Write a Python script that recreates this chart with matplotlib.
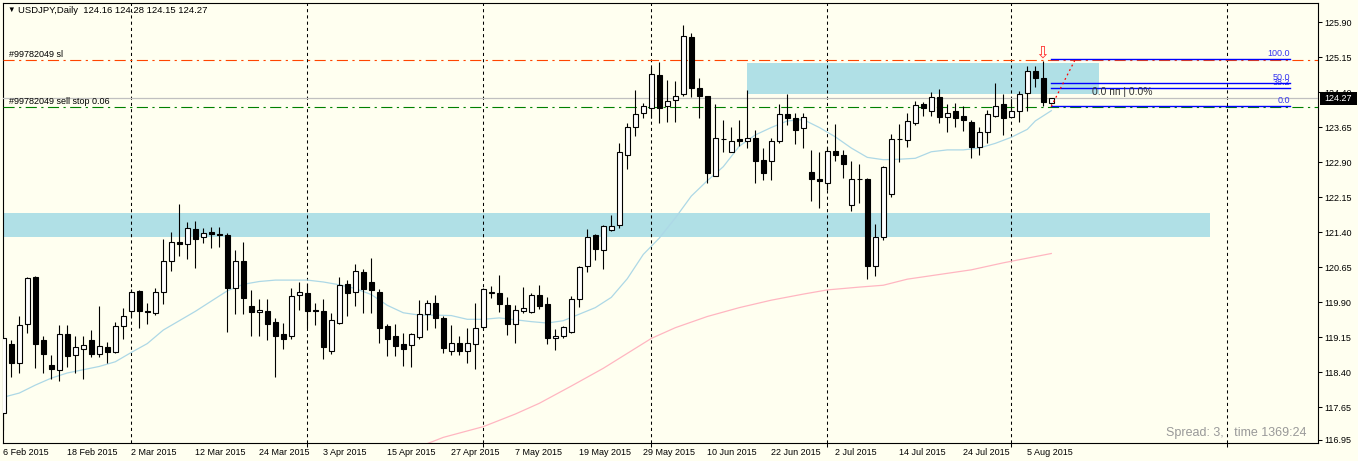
# USDJPY daily candlestick chart, MetaTrader style.
import numpy as np
import pandas as pd
import matplotlib
matplotlib.use('Agg')
import matplotlib.pyplot as plt
from matplotlib.patches import Rectangle
from matplotlib.transforms import blended_transform_factory

plt.rcParams['font.family'] = ['Liberation Sans', 'DejaVu Sans']

# Daily OHLC, one bar per business day from 6 Feb 2015
opens = [117.52, 119.01, 118.60, 119.42, 120.43, 119.09, 118.55, 118.44, 119.21, 118.76,
         118.90, 119.09, 118.78, 118.94, 118.82, 119.38, 119.70, 120.14, 119.71, 119.66,
         120.11, 120.79, 121.18, 121.14, 121.46, 121.29, 121.40, 121.36, 121.33, 120.21,
         120.77, 119.81, 119.68, 119.71, 119.47, 119.21, 119.18, 120.06, 120.09, 119.73,
         119.71, 118.86, 119.46, 120.29, 120.11, 120.55, 120.33, 120.11, 119.39, 119.17,
         119.01, 118.99, 119.16, 119.64, 119.89, 119.55, 118.86, 119.02, 118.85, 119.00,
         119.36, 120.10, 120.09, 119.83, 119.44, 119.71, 119.68, 120.06, 119.86, 119.14,
         119.18, 119.26, 119.96, 120.67, 121.34, 121.01, 121.44, 121.55, 123.04, 123.64,
         123.94, 124.05, 124.76, 124.10, 124.23, 124.36, 125.57, 124.48, 124.31, 122.61,
         123.39, 123.12, 123.39, 123.35, 123.41, 122.94, 122.93, 123.34, 123.92, 123.84,
         123.62, 122.68, 122.53, 122.46, 123.14, 123.06, 121.98, 122.54, 122.53, 120.67,
         121.30, 122.21, 123.39, 123.37, 123.73, 124.14, 124.00, 124.29, 123.86, 124.00,
         123.89, 123.75, 123.23, 123.55, 123.89, 124.14, 123.87, 124.00, 124.37, 124.85,
         124.71, 124.16]
highs = [119.20, 119.09, 119.60, 120.44, 120.46, 119.17, 118.76, 119.40, 119.40, 119.17,
         119.17, 119.30, 119.81, 119.04, 119.48, 119.77, 120.17, 120.16, 119.88, 120.21,
         121.26, 121.40, 122.01, 121.61, 121.64, 121.48, 121.51, 121.51, 121.39, 121.01,
         121.18, 120.16, 119.96, 119.96, 119.55, 119.46, 120.21, 120.34, 120.30, 119.87,
         119.96, 119.67, 120.43, 120.37, 120.71, 120.60, 120.84, 120.17, 119.44, 119.44,
         119.24, 119.24, 119.94, 119.94, 120.06, 119.60, 119.41, 119.17, 119.34, 119.87,
         120.21, 120.25, 120.49, 120.01, 119.84, 120.23, 120.10, 120.26, 120.01, 119.32,
         119.38, 120.03, 120.68, 121.46, 121.35, 121.55, 121.76, 123.30, 123.74, 124.44,
         124.16, 124.94, 125.04, 124.66, 124.64, 125.84, 125.66, 124.71, 124.31, 124.14,
         123.80, 123.64, 123.80, 124.44, 123.59, 123.19, 123.41, 124.14, 124.36, 123.94,
         123.96, 123.16, 123.12, 123.23, 123.71, 123.16, 122.92, 122.85, 122.55, 121.57,
         122.82, 123.51, 123.71, 123.94, 124.21, 124.19, 124.41, 124.46, 124.14, 124.16,
         124.09, 123.80, 123.64, 124.01, 124.59, 124.35, 124.26, 124.43, 124.96, 124.96,
         125.07, 124.28]
lows = [117.16, 118.30, 118.37, 119.23, 118.48, 118.39, 118.26, 118.21, 118.51, 118.39,
        118.26, 118.73, 118.73, 118.60, 118.80, 119.10, 119.59, 119.35, 119.44, 119.62,
        119.86, 120.57, 120.89, 120.82, 120.64, 121.16, 121.06, 121.09, 119.26, 119.65,
        119.65, 119.18, 119.18, 119.09, 118.30, 118.90, 119.10, 119.74, 119.34, 119.41,
        118.69, 118.78, 119.42, 119.60, 119.81, 119.67, 119.67, 119.03, 118.75, 118.75,
        118.53, 118.50, 119.10, 119.31, 119.34, 118.80, 118.77, 118.77, 118.59, 118.46,
        119.32, 119.98, 119.69, 119.19, 119.03, 119.66, 119.66, 119.76, 119.01, 118.87,
        119.12, 119.23, 119.80, 120.55, 120.81, 120.61, 121.42, 121.48, 122.76, 123.46,
        123.84, 123.84, 123.73, 123.76, 123.76, 124.31, 124.29, 123.84, 122.44, 122.60,
        123.11, 123.12, 123.24, 123.21, 122.46, 122.51, 122.51, 123.31, 123.69, 123.29,
        123.21, 122.07, 121.91, 122.29, 122.93, 122.56, 121.84, 122.03, 120.39, 120.46,
        121.24, 122.16, 122.89, 123.23, 123.69, 123.89, 123.89, 123.73, 123.55, 123.66,
        123.57, 122.98, 123.05, 123.30, 123.86, 123.48, 123.87, 123.76, 124.00, 124.51,
        124.09, 124.15]
closes = [119.12, 118.60, 119.40, 120.41, 119.01, 118.78, 118.46, 119.21, 118.75, 118.94,
          118.99, 118.78, 118.96, 118.84, 119.38, 119.61, 120.11, 119.71, 119.68, 120.11,
          120.77, 121.18, 121.15, 121.48, 121.26, 121.39, 121.35, 121.33, 120.20, 120.77,
          119.99, 119.68, 119.73, 119.44, 119.18, 119.10, 120.02, 120.11, 119.71, 119.71,
          118.94, 119.51, 120.26, 120.10, 120.56, 120.17, 120.15, 119.35, 119.11, 118.96,
          118.90, 119.21, 119.64, 119.89, 119.55, 118.92, 119.02, 118.85, 119.02, 119.34,
          120.19, 120.12, 119.85, 119.44, 119.72, 119.77, 120.06, 119.82, 119.12, 119.18,
          119.36, 119.96, 120.66, 121.29, 121.03, 121.52, 121.54, 123.11, 123.64, 123.92,
          124.09, 124.78, 124.06, 124.21, 124.32, 125.60, 124.48, 124.32, 122.66, 123.41,
          123.40, 123.36, 123.34, 123.42, 122.93, 122.66, 123.34, 123.92, 123.85, 123.59,
          123.86, 122.53, 122.49, 123.14, 123.05, 122.86, 122.53, 122.53, 120.68, 121.29,
          122.79, 123.39, 123.40, 123.78, 124.12, 124.05, 124.29, 123.87, 123.94, 123.85,
          123.79, 123.23, 123.54, 123.92, 124.11, 123.85, 124.00, 124.35, 124.86, 124.71,
          124.19, 124.27]

# Moving averages (bar number, price)
fast_ma_bars = [0, 2, 4, 6, 8, 10, 12, 14, 16, 18, 20, 22, 24, 26, 28, 30, 32, 34, 36, 38,
                40, 42, 44, 46, 48, 50, 52, 54, 56, 58, 60, 62, 64, 66, 68, 70, 72, 74, 76, 78,
                80, 82, 84, 86, 88, 90, 92, 94, 96, 98, 100, 102, 104, 106, 108, 110, 112, 114,
                116, 118, 120, 122, 124, 126, 128, 129, 131]
fast_ma = [117.86, 117.95, 118.12, 118.27, 118.38, 118.45, 118.52, 118.62, 118.82, 119.01,
           119.30, 119.50, 119.70, 119.92, 120.14, 120.28, 120.34, 120.37, 120.37, 120.37,
           120.33, 120.27, 120.19, 120.06, 119.83, 119.67, 119.62, 119.62, 119.61, 119.53,
           119.53, 119.56, 119.52, 119.48, 119.45, 119.50, 119.64, 119.78, 120.00, 120.40,
           120.92, 121.27, 121.70, 122.17, 122.50, 122.80, 123.24, 123.48, 123.64, 123.78,
           123.81, 123.64, 123.44, 123.20, 123.00, 122.95, 122.96, 122.98, 123.12, 123.16,
           123.16, 123.20, 123.30, 123.43, 123.60, 123.78, 124.00]
slow_ma_bars = [52, 55, 60, 64, 67, 71, 75, 78, 81, 84, 88, 92, 96, 100, 103, 107, 110, 113,
                117, 121, 125, 128, 131]
slow_ma = [116.80, 117.00, 117.23, 117.50, 117.73, 118.10, 118.48, 118.80, 119.12, 119.35,
           119.59, 119.78, 119.94, 120.07, 120.16, 120.22, 120.26, 120.39, 120.49, 120.59,
           120.74, 120.84, 120.94]

# Order levels and drawn objects
sl_price = 125.08
sell_stop_price = 124.07
order_id = '#99782049'
zone_low = [121.30, 124.36]
zone_high = [121.80, 125.02]
zone_start = [-5, 93]
zone_end = [150.9, 137]
fib_low, fib_high = 124.09, 125.10
fib_levels = [0.0, 38.2, 50.0, 100.0]
fib_start, fib_end = 131, 160.8

tick_dates = ['2015-02-06', '2015-02-18', '2015-03-02', '2015-03-12', '2015-03-24',
              '2015-04-03', '2015-04-15', '2015-04-27', '2015-05-07', '2015-05-19',
              '2015-05-29', '2015-06-10', '2015-06-22', '2015-07-02', '2015-07-14',
              '2015-07-24', '2015-08-05']
price_ticks = [125.90, 125.15, 124.40, 123.65, 122.90, 122.15, 121.40, 120.65, 119.90,
               119.15, 118.40, 117.65, 116.95]

W, H = 1358, 461
bg = '#FFFFF0'

dates = pd.bdate_range('2015-02-06', periods=len(opens))
x = np.arange(len(opens))
o = np.array(opens)
c = np.array(closes)

fig = plt.figure(figsize=(W / 100, H / 100), dpi=100, facecolor=bg)
ax = fig.add_axes([2.5 / W, 1 - 442.7 / H, (1318 - 2.5) / W, 440 / H])
ax.set_facecolor(bg)
ax.set_xlim(-0.1, 164.34)
ax.set_ylim(116.886, 126.314)

# zones
for lo, hi, s, e in zip(zone_low, zone_high, zone_start, zone_end):
    ax.add_patch(Rectangle((s, lo), e - s, hi - lo, facecolor='#B0E0E6',
                           edgecolor='none', zorder=1))

# month separators (future ones are counted in calendar days)
seps = [i for i in range(1, len(dates)) if dates[i].month != dates[i - 1].month]
next_month = dates[-1] + pd.offsets.MonthBegin(1)
seps.append(len(dates) - 1 + (next_month - dates[-1]).days)
for s in seps:
    ax.axvline(s, color='black', lw=0.75, ls=(0, (3, 3)), zorder=2)

# moving averages
ax.plot(fast_ma_bars, fast_ma, color='#ADD8E6', lw=0.9, zorder=2.5)
ax.plot(slow_ma_bars, slow_ma, color='#FFB6C1', lw=0.9, zorder=2.5)

# order lines and bid line
ax.axhline(sl_price, color='#FF4500', lw=0.8, ls=(0, (10, 4, 2, 4)), zorder=2.6)
ax.axhline(sell_stop_price, color='#008000', lw=0.8, ls=(0, (10, 4, 2, 4)), zorder=2.6)
ax.axhline(closes[-1], color='#C0C0C0', lw=0.9, zorder=2.6)
trans = blended_transform_factory(ax.transAxes, ax.transData)
ax.annotate(f'{order_id} sl', (0.005, sl_price), xycoords=trans,
            xytext=(0, 1), textcoords='offset points', fontsize=6.5, va='bottom')
ax.annotate(f'{order_id} sell stop 0.06', (0.005, sell_stop_price), xycoords=trans,
            xytext=(0, 1), textcoords='offset points', fontsize=6.5, va='bottom')

# candles
ax.vlines(x, lows, highs, color='black', lw=0.8, zorder=3)
ax.bar(x, np.abs(c - o), 0.6, bottom=np.minimum(o, c),
       color=np.where(c >= o, 'white', 'black'), edgecolor='black', linewidth=0.8, zorder=4)

# fibonacci
for lvl in fib_levels:
    p = fib_low + (fib_high - fib_low) * lvl / 100
    ax.plot([fib_start, fib_end], [p, p], color='#0000FF', lw=1.0, zorder=5)
    ax.annotate(f'{lvl:.1f}', (fib_end, p), xytext=(0, 0.8), textcoords='offset points',
                fontsize=6.5, color='#3535F0', ha='right', va='bottom', zorder=5)
ax.plot([fib_start, fib_start + 3], [fib_low, fib_high], color='red', lw=0.9,
        ls=(0, (1.5, 2.5)), zorder=5)
ax.text(136.1, 124.41, '0.0 пп | 0.0%', fontsize=7.5, color='#333333', va='center', zorder=5)
ax.text(129.8, 125.24, '\u21e9', fontsize=12, color='#FF3030', ha='center', va='center',
        family='DejaVu Sans', zorder=5)

# current price box
ax.add_patch(Rectangle((1.0015, closes[-1] - 0.14), 0.0281, 0.28, transform=trans,
                       facecolor='black', edgecolor='none', clip_on=False, zorder=10))
ax.text(1.0156, closes[-1], f'{closes[-1]:.2f}', transform=trans, color='white',
        fontsize=6.5, ha='center', va='center', zorder=11)

# axes styling
for sp in ax.spines.values():
    sp.set_linewidth(0.8)
ax.yaxis.tick_right()
ax.set_yticks(price_ticks)
ax.set_yticklabels([f'{v:.2f}' for v in price_ticks])
ax.tick_params(axis='y', length=3, width=0.75, pad=1.5, labelsize=6.5)
tick_pos = dates.get_indexer(pd.to_datetime(tick_dates))
ax.set_xticks(tick_pos)
ax.set_xticklabels([f'{dates[i].day} {dates[i]:%b %Y}' for i in tick_pos], ha='left')
ax.tick_params(axis='x', which='major', length=0, pad=3.5, labelsize=6.5)
ax.set_xticks([0] + seps, minor=True)
ax.tick_params(axis='x', which='minor', length=3, width=0.75)

# header and status text
fig.text(7 / W, 1 - 10.5 / H, '\u25bc', fontsize=5.5, va='center')
fig.text(18 / W, 1 - 10.5 / H,
         f'USDJPY,Daily  {opens[-1]:.2f} {highs[-1]:.2f} {lows[-1]:.2f} {closes[-1]:.2f}',
         fontsize=6.8, va='center')
fig.text(1307 / W, 1 - 433 / H, 'Spread: 3,   time 1369:24', fontsize=9,
         color='#999999', ha='right', va='center')

fig.savefig('out.png', dpi=100, facecolor=bg)
